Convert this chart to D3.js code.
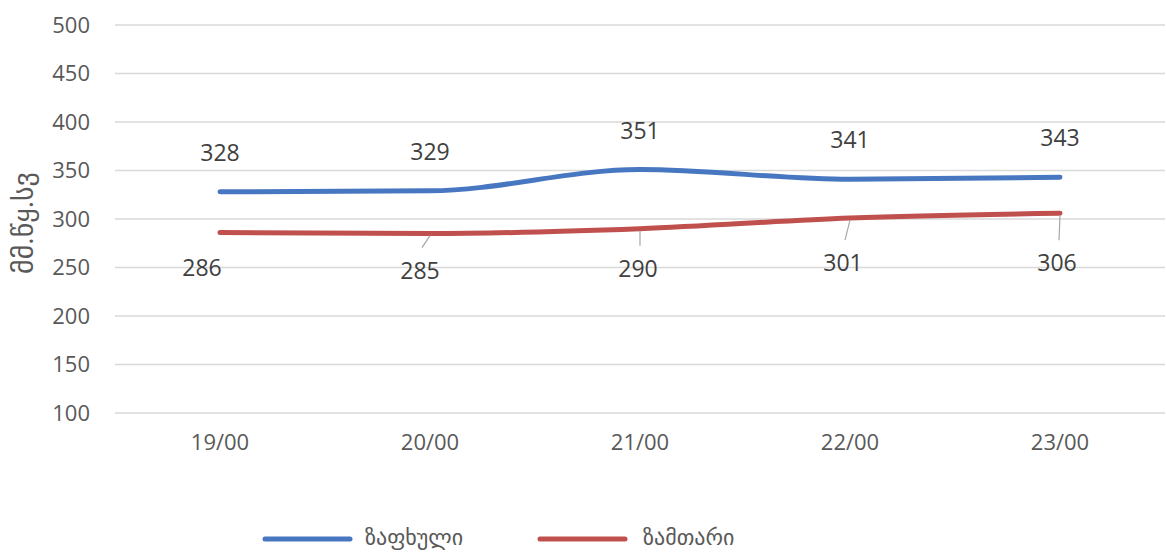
<!DOCTYPE html>
<html>
<head>
<meta charset="utf-8">
<script src="https://cdn.jsdelivr.net/npm/d3@7"></script>
<style>
  html, body { margin: 0; padding: 0; background: #fff; }
  svg { display: block; }
  text { font-family: "Open Sans", "DejaVu Sans", sans-serif; }
</style>
</head>
<body>
<svg id="chart" width="1166" height="553"></svg>
<script>
// ---- data ----
const categories = ["19/00", "20/00", "21/00", "22/00", "23/00"];
const summer = [328, 329, 351, 341, 343];   // ზაფხული
const winter = [286, 285, 290, 301, 306];   // ზამთარი
const yTicks = [100, 150, 200, 250, 300, 350, 400, 450, 500];
const seriesNames = ["ზაფხული", "ზამთარი"];
const yAxisTitle = "მმ.წყ.სვ";

// ---- layout / style (not data) ----
const W = 1166, H = 553;
const plot = { left: 115, right: 1165, top: 25, bottom: 413 };
const colors = ["#4777c0", "#c0504d"];
const winterLabelShift = [[-18, 34], [-10, 36], [-2, 39], [-7, 44], [-3, 49]];
const winterLeader = [false, true, true, true, true];
const FS = 23;

const svg = d3.select("#chart");

const x = d3.scaleBand().domain(categories).range([plot.left, plot.right]);
const y = d3.scaleLinear().domain([100, 500]).range([plot.bottom, plot.top]);
const cx = c => x(c) + x.bandwidth() / 2;

// gridlines
svg.append("g").selectAll("line").data(yTicks).join("line")
  .attr("x1", plot.left).attr("x2", plot.right)
  .attr("y1", d => y(d)).attr("y2", d => y(d))
  .attr("stroke", "#d9d9d9").attr("stroke-width", 1.3);

// y axis labels
const yAxis = d3.axisLeft(y).tickValues(yTicks).tickSize(0).tickPadding(0);
const gy = svg.append("g").attr("transform", `translate(${plot.left - 25},0)`).call(yAxis);
gy.select(".domain").remove();
gy.selectAll("text").attr("font-size", FS - 1).attr("fill", "#595959")
  .style("font-family", '"Open Sans", sans-serif');

// x axis labels
const xAxis = d3.axisBottom(x).tickSize(0).tickPadding(0);
const gx = svg.append("g").attr("transform", `translate(0,${plot.bottom + 21})`).call(xAxis);
gx.select(".domain").remove();
gx.selectAll("text").attr("font-size", FS - 1).attr("fill", "#595959")
  .style("font-family", '"Open Sans", sans-serif');

// y axis title
svg.append("text")
  .attr("transform", `translate(22,${(plot.top + plot.bottom) / 2 + 4}) rotate(-90)`)
  .attr("text-anchor", "middle").attr("dominant-baseline", "central")
  .attr("font-size", 28).attr("fill", "#595959")
  .text(yAxisTitle);

// lines
const line = d3.line()
  .x((d, i) => cx(categories[i]))
  .y(d => y(d))
  .curve(d3.curveMonotoneX);

[summer, winter].forEach((s, k) => {
  svg.append("path").datum(s)
    .attr("d", line)
    .attr("fill", "none")
    .attr("stroke", colors[k])
    .attr("stroke-width", 5)
    .attr("stroke-linecap", "round")
    .attr("stroke-linejoin", "round");
});

// summer labels (above)
svg.append("g").selectAll("text").data(summer).join("text")
  .attr("x", (d, i) => cx(categories[i]))
  .attr("y", d => y(d) - 40)
  .attr("text-anchor", "middle").attr("dominant-baseline", "central")
  .attr("font-size", FS).attr("fill", "#404040")
  .text(d => d);

// winter leader lines
svg.append("g").selectAll("line").data(winter).join("line")
  .filter((d, i) => winterLeader[i])
  .attr("x1", (d, i) => cx(categories[winter.indexOf(d)]))
  .attr("y1", d => y(d) + 2)
  .attr("x2", d => { const i = winter.indexOf(d); return cx(categories[i]) + winterLabelShift[i][0] + 2; })
  .attr("y2", d => { const i = winter.indexOf(d); return y(d) + winterLabelShift[i][1] - 22; })
  .attr("stroke", "#a6a6a6").attr("stroke-width", 1.2);

// winter labels (below)
svg.append("g").selectAll("text").data(winter).join("text")
  .attr("x", (d, i) => cx(categories[i]) + winterLabelShift[i][0])
  .attr("y", (d, i) => y(d) + winterLabelShift[i][1])
  .attr("text-anchor", "middle").attr("dominant-baseline", "central")
  .attr("font-size", FS).attr("fill", "#404040")
  .text(d => d);

// legend
const legendItems = [
  { name: seriesNames[0], color: colors[0], x1: 265, x2: 350, tx: 365 },
  { name: seriesNames[1], color: colors[1], x1: 540, x2: 625, tx: 643 }
];
const lg = svg.append("g");
legendItems.forEach(it => {
  lg.append("line").attr("x1", it.x1).attr("x2", it.x2).attr("y1", 539).attr("y2", 539)
    .attr("stroke", it.color).attr("stroke-width", 5).attr("stroke-linecap", "round");
  lg.append("text").attr("x", it.tx).attr("y", 545)
    .attr("font-size", 22).attr("fill", "#595959")
    .text(it.name);
});
</script>
</body>
</html>
